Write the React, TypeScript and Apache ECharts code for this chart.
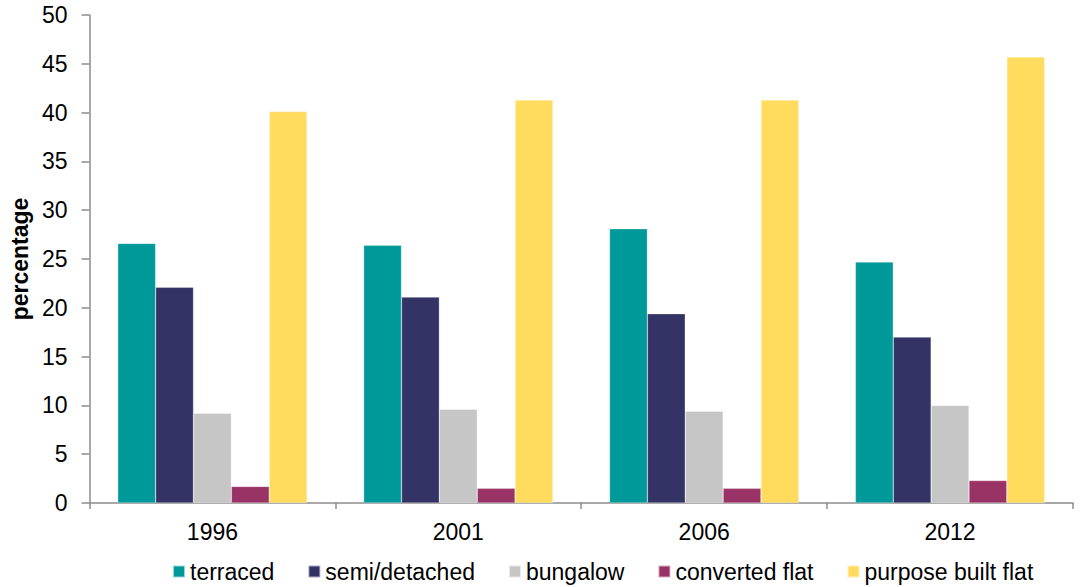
import React, { useEffect, useRef } from "react";
import * as echarts from "echarts";

const years = ["1996", "2001", "2006", "2012"];
const seriesNames = ["terraced", "semi/detached", "bungalow", "converted flat", "purpose built flat"];
const terraced = [26.6, 26.4, 28.1, 24.7];
const semiDetached = [22.1, 21.1, 19.4, 17.0];
const bungalow = [9.2, 9.6, 9.4, 10.0];
const convertedFlat = [1.7, 1.5, 1.5, 2.3];
const purposeBuiltFlat = [40.1, 41.3, 41.3, 45.7];
const colors = ["#009999", "#333366", "#C6C6C6", "#993366", "#FFDB5E"];

const FONT = "'Liberation Sans', Arial, sans-serif";

export default function App() {
  const ref = useRef<HTMLDivElement>(null);
  useEffect(() => {
    if (!ref.current) return;
    const chart = echarts.init(ref.current, undefined, { renderer: "svg" });
    const values = [terraced, semiDetached, bungalow, convertedFlat, purposeBuiltFlat];
    chart.setOption({
      animation: false,
      backgroundColor: "#ffffff",
      textStyle: { fontFamily: FONT },
      grid: { left: 87, right: 14, top: 15, bottom: 84, containLabel: false },
      legend: {
        left: 172,
        top: 560,
        padding: 0,
        itemWidth: 12,
        itemHeight: 12,
        itemGap: 33,
        icon: "rect",
        textStyle: { fontSize: 23, color: "#000", fontFamily: FONT },
        data: seriesNames,
      },
      xAxis: {
        type: "category",
        data: years,
        axisLine: { lineStyle: { color: "#8c8c8c", width: 1.5 } },
        axisTick: { show: true, length: 6, alignWithLabel: false, lineStyle: { color: "#8c8c8c", width: 1.5 } },
        axisLabel: { fontSize: 23, color: "#000", margin: 17, fontFamily: FONT },
        splitLine: { show: false },
      },
      yAxis: {
        type: "value",
        min: 0,
        max: 50,
        interval: 5,
        name: "percentage",
        nameLocation: "middle",
        nameGap: 58,
        nameTextStyle: { fontSize: 23, fontWeight: "bold", color: "#000", fontFamily: FONT },
        axisLine: { show: true, lineStyle: { color: "#8c8c8c", width: 1.5 } },
        axisTick: { show: true, length: 8, inside: false, lineStyle: { color: "#8c8c8c", width: 1.5 } },
        axisLabel: { fontSize: 23, color: "#000", margin: 22, fontFamily: FONT },
        splitLine: { show: false },
      },
      series: seriesNames.map((name, i) => ({
        name,
        type: "bar",
        data: values[i],
        barGap: "0%",
        barCategoryGap: "23%",
        itemStyle: { color: colors[i], borderColor: "rgba(255,255,255,0.6)", borderWidth: 0.5 },
      })),
    });
    return () => chart.dispose();
  }, []);
  return (
    <div
      ref={ref}
      style={{ position: "fixed", left: 0, top: 0, width: 1087, height: 587, background: "#fff" }}
    />
  );
}
